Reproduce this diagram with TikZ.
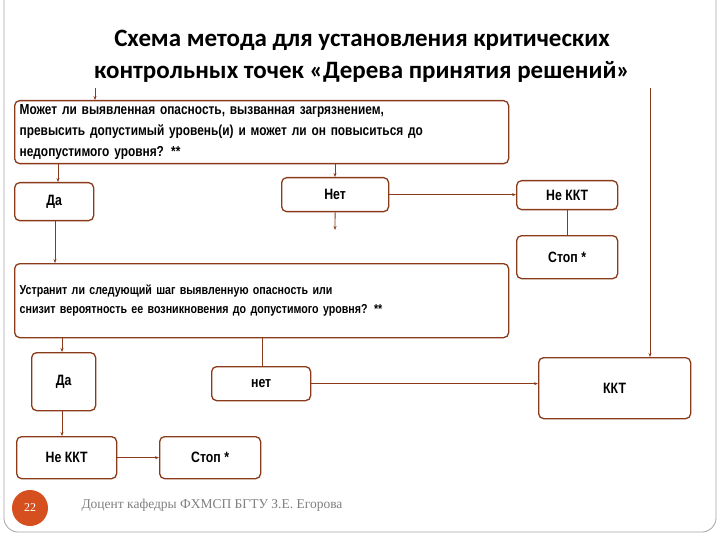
\documentclass[tikz,border=0pt]{standalone}
\usepackage{fontspec}
\setmainfont{Liberation Sans}[FakeStretch=0.82]
\newfontfamily\titlefont{Carlito}
\newfontfamily\footfont{Liberation Serif}
\usetikzlibrary{arrows.meta}
\definecolor{br}{HTML}{8B3A1A}
\definecolor{org}{HTML}{D5501E}
\begin{document}
\begin{tikzpicture}[x=1pt,y=-1pt,
 box/.style={draw=br,line width=1.3pt,rounded corners=5pt,fill=white,font=\bfseries\fontsize{15}{17}\selectfont,inner sep=0pt},
 ln/.style={draw=br,line width=0.8pt},
 ar/.style={ln,-{Stealth[length=4pt,width=3pt]}}]
\useasboundingbox (0,0) rectangle (720,540);
\fill[white] (0,0) rectangle (720,540);
\draw[gray!70,line width=0.8pt,rounded corners=14pt] (4,-10) -- (4,532) -- (716,532) -- (716,-10);
\node[font=\titlefont\bfseries\fontsize{25}{32}\selectfont,align=center] (title) at (362,56) {Схема метода для установления критических\\контрольных точек «Дерева принятия решений»};
\node[box,minimum width=494,minimum height=63,anchor=north west,align=left,text width=484,font=\bfseries\fontsize{14.5}{21}\selectfont] (q1) at (14,100) {Может ли выявленная опасность, вызванная загрязнением,\\превысить допустимый уровень(и) и может ли он повыситься до\\недопустимого уровня? **};
\node[box,minimum width=79,minimum height=38,anchor=north west] (da1) at (14,182) {Да};
\node[box,minimum width=107,minimum height=34,anchor=north west] (net1) at (281,177) {Нет};
\node[box,minimum width=101,minimum height=29,anchor=north west] (nk1) at (516,180) {Не ККТ};
\node[box,minimum width=101,minimum height=43,anchor=north west] (st1) at (516,235) {Стоп *};
\node[box,minimum width=494,minimum height=74,anchor=north west,align=left,text width=484,font=\bfseries\fontsize{13}{19}\selectfont] (q2) at (14,263) {Устранит ли следующий шаг выявленную опасность или\\снизит вероятность ее возникновения до допустимого уровня? **\\[6pt]};
\node[box,minimum width=64,minimum height=58,anchor=north west] (da2) at (31,352) {Да};
\node[box,minimum width=99,minimum height=34,anchor=north west] (net2) at (211,366) {нет};
\node[box,minimum width=152,minimum height=61,anchor=north west] (kkt) at (538,357) {ККТ};
\node[box,minimum width=100,minimum height=42,anchor=north west] (nk2) at (16,436) {Не ККТ};
\node[box,minimum width=101,minimum height=42,anchor=north west] (st2) at (159,436) {Стоп *};
\node[circle,fill=org,minimum size=36,inner sep=0pt,text=white,font=\footfont\fontsize{12}{14}\selectfont] (pg) at (30,508) {22};
\node[anchor=west,text=gray,font=\footfont\fontsize{13.5}{16}\selectfont] (ft) at (78,505) {Доцент кафедры ФХМСП БГТУ З.Е. Егорова};
\coordinate (t1) at (95,88);
\coordinate (t2) at (650,88);
\coordinate (s1) at (335,230);
\draw[ar] (t1) -- (t1 |- q1.north);
\draw[ar] (t2) -- (t2 |- kkt.north);
\draw[ar] (58,163) -- (58,182);
\draw[ar] (335,163) -- (335,177);
\draw[ar] (net1.south) -- (s1);
\draw[ar] (net1.east) -- (nk1.west |- net1.east);
\draw[ln] (nk1.south -| 567,0) -- (567,235);
\draw[ar] (55,220) -- (55,263);
\draw[ar] (62,337) -- (62,352);
\draw[ln] (262,337) -- (262,366);
\draw[ar] (net2.east) -- (kkt.west |- net2.east);
\draw[ar] (62,410) -- (62,436);
\draw[ar] (nk2.east) -- (st2.west);
\end{tikzpicture}
\end{document}
